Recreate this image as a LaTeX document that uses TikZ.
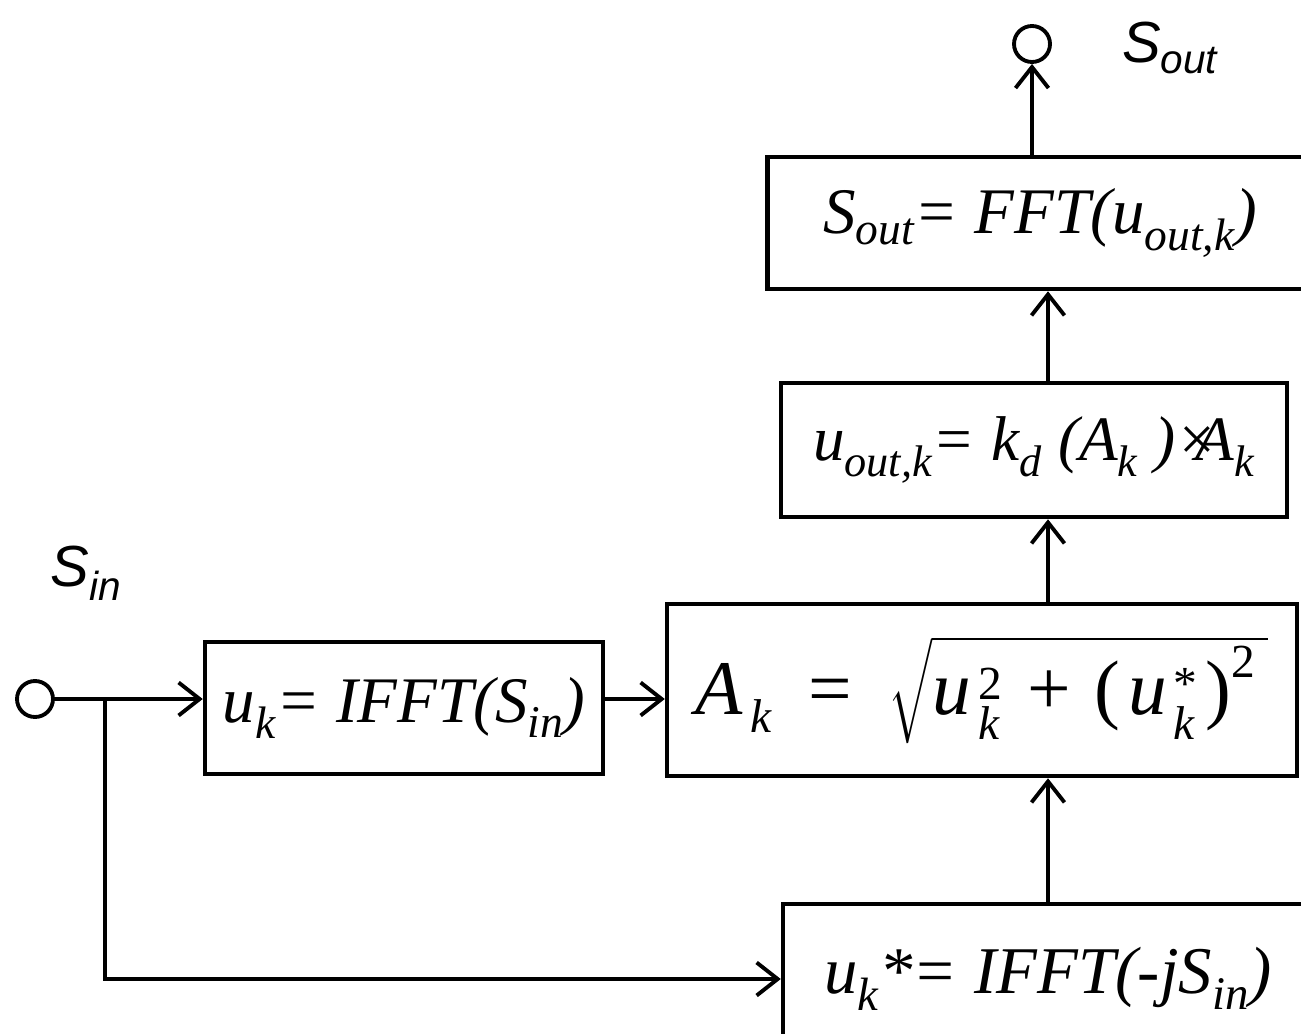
\documentclass[tikz,border=0pt]{standalone}
\usepackage{amsmath}
\usepackage{fontspec}
\setmainfont{Liberation Serif}
\newfontfamily\lblfont{Liberation Sans}
\usetikzlibrary{arrows.meta}
\newcommand{\sub}[1]{\textsubscript{#1}}
\newcommand{\subsz}[1]{\text{\fontsize{27}{30}\selectfont #1}}
\begin{document}
\begin{tikzpicture}[x=0.02cm,y=-0.02cm,%1px単位
  block/.style={draw, line width=2.6pt, inner sep=0pt, font=\fontsize{37}{44}\selectfont\itshape},
  port/.style={draw, circle, line width=2.2pt, minimum size=0.72cm, inner sep=0pt},
  sig/.style={line width=2.2pt, -{Straight Barb[length=0.42cm,width=0.66cm,line width=2.2pt]}},
  lbl/.style={font=\lblfont\fontsize{33}{38}\selectfont\itshape}]
                \useasboundingbox (0,0) rectangle (1301,1034);%範囲
                \node[block, minimum width=7.96cm, minimum height=2.64cm] (ifft) at (404,708) {u\sub{k}= IFFT(S\sub{in})};
                \node[block, minimum width=12.6cm, minimum height=3.44cm, font=\fontsize{44}{50}\selectfont] (amp) at (982,690)
                    {$\mathit{A}_{\,\subsz{\itshape k}}\;\;\;\text{=}\;\;\;\sqrt{\mathit{u}^{\,\subsz{2}}_{\,\subsz{\itshape k}}\;\;\text{+}\;\;\text{(}\,\mathit{u}^{\,\subsz{*}}_{\,\subsz{\itshape k}}\,\text{)}^{\subsz{2}}\;}$};
                \node[block, minimum width=10.12cm, minimum height=2.68cm, font=\fontsize{36}{44}\selectfont\itshape] (uout) at (1034,450) {u\sub{out,k}= k\sub{d} (A\sub{k} )×\hspace{-0.35em}A\sub{k}};
                \node[block, minimum width=10.9cm, minimum height=2.64cm] (fft) at (1040,223) {S\sub{out}= FFT(u\sub{out,k})};
                \node[block, minimum width=10.6cm, minimum height=3cm, font=\fontsize{38}{44}\selectfont\itshape] (qifft) at (1048,979) {u\sub{k}*= IFFT(-jS\sub{in})};
                \node[port] (in) at (35,699) {};%入力
                \node[port] (out) at (1032,44) {};%出力
                \coordinate (br) at (105,699);%分岐
                \node[lbl] (sinlbl) at (86,573) {S\sub{in}};
                \node[lbl] (soutlbl) at (1170,48) {S\sub{out}};
                \draw[sig] (in.east) -- (in.east -| ifft.west);
                \draw[sig] (br) |- (qifft.west);
                \draw[sig] (in -| ifft.east) -- (in -| amp.west);
                \draw[sig] (qifft.north) -- (qifft.north |- amp.south);
                \draw[sig] (amp.north -| qifft.north) -- (uout.south -| qifft.north);
                \draw[sig] (uout.north -| qifft.north) -- (fft.south -| qifft.north);
                \draw[sig] (fft.north -| out) -- (out.south);
            \end{tikzpicture}
\end{document}
